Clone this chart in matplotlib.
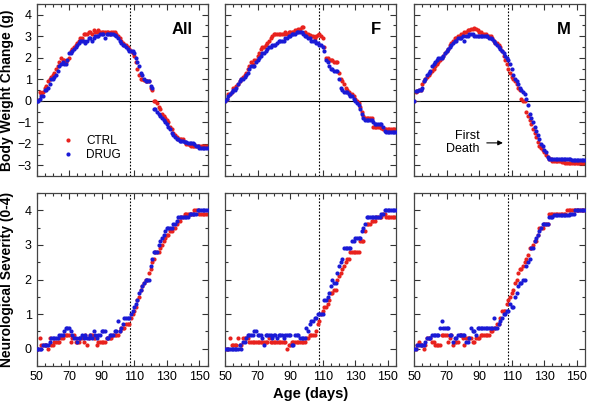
import numpy as np
import matplotlib
matplotlib.use("Agg")
import matplotlib.pyplot as plt
from matplotlib.ticker import MultipleLocator

plt.rcParams['font.family'] = ['Liberation Sans', 'DejaVu Sans']

# age in days, one reading per day
days = np.arange(50, 156)

# body weight change (g)
bw_all_ctrl = [0.0, 0.05, 0.4, 0.3, 0.4, 0.6, 0.7, 0.9, 1.0, 1.1,
               1.2, 1.3, 1.5, 1.6, 1.8, 2.0, 1.9, 1.9, 1.8, 1.9,
               2.0, 2.3, 2.4, 2.5, 2.6, 2.7, 2.8, 2.9, 2.9, 3.1,
               3.1, 3.1, 3.2, 3.2, 3.1, 3.3, 3.2, 3.2, 3.3, 3.2,
               3.2, 3.2, 3.2, 3.2, 3.2, 3.1, 3.2, 3.2, 3.2, 3.1,
               3.0, 2.9, 2.8, 2.7, 2.6, 2.6, 2.5, 2.4, 2.3, 2.2,
               2.1, 1.8, 1.5, 1.2, 1.0, 1.0, 0.95, 0.9, 0.9, 0.9,
               0.6, 0.5, 0.0, 0.0, -0.1, -0.3, -0.4, -0.6, -0.7, -0.8,
               -0.9, -1.0, -1.2, -1.3, -1.5, -1.6, -1.7, -1.8, -1.8, -1.8,
               -1.8, -1.9, -2.0, -2.0, -2.05, -2.1, -2.1, -2.1, -2.1, -2.1,
               -2.1, -2.1, -2.1, -2.1, -2.1, -2.1]
bw_all_drug = [0.0, 0.0, 0.1, 0.2, 0.2, 0.5, 0.5, 0.6, 0.8, 1.0,
               1.0, 1.1, 1.2, 1.4, 1.6, 1.7, 1.8, 1.7, 1.7, 1.9,
               2.2, 2.2, 2.3, 2.4, 2.5, 2.6, 2.7, 2.8, 2.8, 2.8,
               2.7, 2.8, 2.9, 2.9, 2.8, 2.9, 3.0, 3.0, 3.0, 3.1,
               3.1, 3.1, 2.9, 3.1, 3.1, 3.1, 3.1, 3.1, 3.05, 3.0,
               2.9, 2.8, 2.7, 2.6, 2.6, 2.5, 2.4, 2.3, 2.3, 2.3,
               2.2, 2.0, 1.8, 1.6, 1.3, 1.2, 1.0, 0.9, 0.9, 0.9,
               0.7, 0.6, -0.4, -0.4, -0.5, -0.6, -0.7, -0.8, -0.9, -1.0,
               -1.1, -1.2, -1.3, -1.5, -1.6, -1.7, -1.8, -1.8, -1.85, -1.85,
               -1.85, -1.9, -1.9, -1.95, -1.95, -1.95, -1.95, -2.0, -2.1, -2.1,
               -2.2, -2.2, -2.2, -2.2, -2.2, -2.2]
bw_f_ctrl = [0.0, 0.1, 0.3, 0.3, 0.4, 0.6, 0.6, 0.7, 0.8, 0.9,
             1.0, 1.1, 1.2, 1.3, 1.5, 1.6, 1.8, 1.7, 1.9, 1.9,
             2.1, 2.2, 2.4, 2.5, 2.5, 2.6, 2.7, 2.8, 2.9, 3.0,
             3.1, 3.1, 3.1, 3.1, 3.1, 3.1, 3.1, 3.2, 3.1, 3.2,
             3.2, 3.2, 3.2, 3.3, 3.3, 3.35, 3.35, 3.45, 3.45, 3.2,
             3.1, 3.1, 3.05, 3.0, 3.0, 2.9, 3.0, 3.05, 3.1, 3.0,
             2.9, 2.5, 2.0, 2.0, 1.9, 1.9, 1.9, 1.8, 1.8, 1.8,
             1.3, 1.0, 0.9, 0.8, 0.6, 0.5, 0.4, 0.3, 0.3, 0.2,
             0.1, 0.0, -0.1, -0.3, -0.5, -0.7, -0.8, -0.8, -0.8, -0.8,
             -0.8, -1.2, -1.2, -1.2, -1.2, -1.2, -1.25, -1.3, -1.3, -1.3,
             -1.3, -1.3, -1.3, -1.3, -1.3, -1.3]
bw_f_drug = [0.0, 0.1, 0.2, 0.3, 0.4, 0.5, 0.5, 0.6, 0.8, 0.9,
             1.0, 1.0, 1.1, 1.2, 1.3, 1.5, 1.6, 1.6, 1.6, 1.8,
             1.9, 2.0, 2.1, 2.2, 2.2, 2.3, 2.4, 2.5, 2.5, 2.6,
             2.6, 2.6, 2.7, 2.8, 2.8, 2.8, 2.8, 2.9, 2.9, 3.0,
             3.0, 3.1, 3.1, 3.1, 3.2, 3.2, 3.2, 3.2, 3.1, 3.0,
             3.0, 2.9, 2.9, 2.8, 2.8, 2.8, 2.7, 2.7, 2.6, 2.6,
             2.5, 2.3, 1.9, 1.8, 1.6, 1.5, 1.5, 1.4, 1.4, 1.4,
             1.0, 0.6, 0.5, 0.4, 0.4, 0.4, 0.3, 0.2, 0.2, 0.1,
             0.0, -0.1, -0.2, -0.4, -0.6, -0.8, -0.9, -0.9, -0.9, -0.9,
             -0.9, -1.0, -1.1, -1.1, -1.1, -1.1, -1.1, -1.2, -1.4, -1.45,
             -1.45, -1.45, -1.45, -1.45, -1.45, -1.45]
bw_m_ctrl = [0.0, 0.4, 0.45, 0.5, 0.5, 0.8, 0.9, 1.0, 1.1, 1.2,
             1.3, 1.4, 1.5, 1.6, 1.7, 1.8, 1.9, 2.0, 2.1, 2.2,
             2.3, 2.4, 2.6, 2.7, 2.8, 2.9, 2.9, 3.0, 3.0, 3.1,
             3.1, 3.2, 3.2, 3.3, 3.3, 3.35, 3.35, 3.4, 3.35, 3.3,
             3.2, 3.2, 3.1, 3.1, 3.1, 3.0, 3.0, 3.0, 2.9, 2.8,
             2.7, 2.7, 2.6, 2.5, 2.3, 2.1, 1.9, 1.7, 1.5, 1.3,
             1.1, 1.0, 0.9, 0.8, 0.6, 0.5, 0.1, 0.0, 0.0, -0.5,
             -0.7, -0.9, -1.1, -1.3, -1.5, -1.7, -1.9, -2.1, -2.2, -2.3,
             -2.4, -2.5, -2.6, -2.7, -2.7, -2.8, -2.8, -2.8, -2.8, -2.8,
             -2.8, -2.85, -2.85, -2.9, -2.9, -2.9, -2.9, -2.9, -2.9, -2.9,
             -2.9, -2.9, -2.9, -2.9, -2.9, -2.9]
bw_m_drug = [0.0, 0.45, 0.45, 0.5, 0.5, 0.6, 0.9, 1.0, 1.2, 1.3,
             1.4, 1.6, 1.7, 1.8, 1.9, 2.0, 2.0, 2.0, 2.1, 2.2,
             2.3, 2.4, 2.5, 2.6, 2.7, 2.8, 2.8, 2.9, 2.9, 2.9,
             3.0, 2.8, 3.0, 3.0, 3.1, 3.1, 3.1, 3.0, 3.0, 3.0,
             3.0, 3.0, 3.0, 3.0, 3.0, 3.0, 2.9, 2.9, 2.85, 2.8,
             2.7, 2.6, 2.5, 2.4, 2.3, 2.2, 2.1, 2.0, 1.9, 1.7,
             1.5, 1.2, 1.0, 0.9, 0.8, 0.6, 0.5, 0.4, 0.3, 0.1,
             -0.2, -0.6, -0.8, -1.0, -1.2, -1.4, -1.6, -1.8, -2.0, -2.1,
             -2.3, -2.4, -2.6, -2.7, -2.7, -2.7, -2.7, -2.7, -2.7, -2.7,
             -2.7, -2.7, -2.7, -2.7, -2.7, -2.7, -2.7, -2.75, -2.75, -2.75,
             -2.75, -2.75, -2.75, -2.75, -2.75, -2.75]

# neurological severity score (0-4)
ns_all_ctrl = [0.0, 0.0, 0.3, 0.1, 0.1, 0.1, 0.1, 0.0, 0.3, 0.1,
               0.1, 0.2, 0.2, 0.2, 0.2, 0.3, 0.3, 0.4, 0.4, 0.4,
               0.4, 0.2, 0.3, 0.4, 0.2, 0.2, 0.2, 0.3, 0.3, 0.2,
               0.4, 0.1, 0.3, 0.4, 0.4, 0.3, 0.3, 0.1, 0.2, 0.2,
               0.2, 0.2, 0.2, 0.3, 0.3, 0.3, 0.3, 0.4, 0.4, 0.4,
               0.4, 0.5, 0.6, 0.6, 0.6, 0.7, 0.7, 0.7, 0.9, 1.0,
               1.1, 1.2, 1.4, 1.5, 1.7, 1.8, 1.9, 2.0, 2.0, 2.2,
               2.3, 2.5, 2.6, 2.8, 2.8, 2.8, 2.9, 3.0, 3.1, 3.2,
               3.3, 3.3, 3.4, 3.4, 3.5, 3.5, 3.6, 3.7, 3.7, 3.8,
               3.8, 3.9, 3.9, 3.9, 3.9, 3.9, 3.9, 4.0, 4.0, 4.0,
               3.9, 3.9, 3.9, 3.9, 3.9, 3.9]
ns_all_drug = [0.0, 0.0, 0.0, 0.0, 0.1, 0.1, 0.1, 0.1, 0.2, 0.3,
               0.3, 0.3, 0.3, 0.3, 0.4, 0.4, 0.4, 0.5, 0.6, 0.6,
               0.6, 0.5, 0.4, 0.3, 0.3, 0.2, 0.3, 0.3, 0.4, 0.3,
               0.4, 0.3, 0.3, 0.4, 0.3, 0.5, 0.4, 0.3, 0.4, 0.4,
               0.5, 0.5, 0.5, 0.3, 0.3, 0.4, 0.4, 0.4, 0.5, 0.5,
               0.8, 0.5, 0.6, 0.7, 0.9, 0.9, 0.9, 0.9, 1.0, 1.1,
               1.2, 1.3, 1.4, 1.6, 1.7, 1.8, 1.9, 2.0, 2.0, 2.0,
               2.4, 2.6, 2.8, 2.8, 2.8, 3.0, 3.1, 3.2, 3.3, 3.4,
               3.5, 3.5, 3.5, 3.5, 3.6, 3.6, 3.7, 3.8, 3.8, 3.8,
               3.8, 3.8, 3.8, 3.8, 3.9, 3.9, 3.9, 3.9, 3.9, 4.0,
               4.0, 4.0, 4.0, 4.0, 4.0, 4.0]
ns_f_ctrl = [0.0, 0.0, 0.0, 0.3, 0.1, 0.1, 0.1, 0.1, 0.3, 0.1,
             0.1, 0.3, 0.3, 0.3, 0.3, 0.2, 0.2, 0.2, 0.2, 0.2,
             0.2, 0.2, 0.2, 0.2, 0.2, 0.2, 0.2, 0.3, 0.2, 0.2,
             0.2, 0.2, 0.2, 0.2, 0.2, 0.2, 0.2, 0.2, 0.0, 0.1,
             0.1, 0.2, 0.2, 0.2, 0.2, 0.2, 0.2, 0.2, 0.2, 0.2,
             0.3, 0.3, 0.4, 0.4, 0.4, 0.4, 0.5, 0.7, 0.8, 1.0,
             1.1, 1.2, 1.2, 1.3, 1.4, 1.6, 1.6, 1.7, 1.7, 2.0,
             2.1, 2.2, 2.3, 2.4, 2.5, 2.6, 2.6, 2.8, 2.8, 2.8,
             2.8, 2.8, 2.8, 3.1, 3.1, 3.1, 3.4, 3.6, 3.6, 3.6,
             3.7, 3.7, 3.7, 3.8, 3.8, 3.8, 3.8, 3.9, 3.9, 3.8,
             3.8, 3.8, 3.8, 3.8, 3.8, 3.8]
ns_f_drug = [0.0, 0.0, 0.0, 0.0, 0.0, 0.0, 0.0, 0.0, 0.0, 0.1,
             0.0, 0.2, 0.2, 0.3, 0.4, 0.4, 0.4, 0.4, 0.5, 0.5,
             0.4, 0.4, 0.4, 0.3, 0.1, 0.4, 0.4, 0.4, 0.4, 0.3,
             0.4, 0.4, 0.3, 0.4, 0.4, 0.4, 0.3, 0.4, 0.4, 0.4,
             0.4, 0.1, 0.1, 0.4, 0.4, 0.4, 0.3, 0.3, 0.3, 0.3,
             0.6, 0.5, 0.7, 0.8, 0.8, 0.9, 0.9, 1.0, 1.0, 1.0,
             1.0, 1.4, 1.4, 1.5, 1.6, 1.8, 2.0, 1.9, 1.9, 2.2,
             2.4, 2.5, 2.6, 2.9, 2.9, 2.9, 2.9, 2.9, 3.1, 3.1,
             3.2, 3.2, 3.2, 3.2, 3.4, 3.5, 3.6, 3.8, 3.8, 3.8,
             3.8, 3.8, 3.8, 3.8, 3.8, 3.8, 3.9, 3.9, 4.0, 4.0,
             4.0, 4.0, 4.0, 4.0, 4.0, 4.0]
ns_m_ctrl = [0.0, 0.0, 0.1, 0.2, 0.1, 0.1, 0.0, 0.1, 0.3, 0.3,
             0.3, 0.2, 0.2, 0.1, 0.1, 0.1, 0.1, 0.4, 0.4, 0.4,
             0.4, 0.2, 0.3, 0.4, 0.1, 0.2, 0.2, 0.2, 0.4, 0.4,
             0.3, 0.1, 0.3, 0.3, 0.3, 0.3, 0.2, 0.2, 0.3, 0.3,
             0.3, 0.4, 0.4, 0.4, 0.4, 0.4, 0.4, 0.5, 0.5, 0.6,
             0.6, 0.7, 0.7, 0.9, 1.1, 1.1, 1.1, 1.3, 1.4, 1.5,
             1.6, 1.7, 1.9, 2.0, 2.2, 2.3, 2.3, 2.4, 2.5, 2.6,
             2.7, 2.9, 2.9, 3.0, 3.1, 3.1, 3.3, 3.5, 3.5, 3.5,
             3.6, 3.6, 3.6, 3.9, 3.9, 3.9, 3.9, 3.9, 3.9, 3.9,
             3.9, 3.9, 3.9, 3.9, 4.0, 4.0, 4.0, 4.0, 4.0, 4.0,
             4.0, 4.0, 4.0, 4.0, 4.0, 4.0]
ns_m_drug = [0.0, 0.0, 0.1, 0.1, 0.1, 0.1, 0.1, 0.2, 0.3, 0.3,
             0.3, 0.4, 0.4, 0.4, 0.4, 0.4, 0.6, 0.8, 0.6, 0.6,
             0.6, 0.6, 0.4, 0.4, 0.2, 0.3, 0.3, 0.4, 0.4, 0.4,
             0.4, 0.4, 0.2, 0.2, 0.3, 0.6, 0.5, 0.5, 0.4, 0.6,
             0.6, 0.6, 0.6, 0.6, 0.6, 0.6, 0.6, 0.6, 0.6, 0.9,
             0.6, 0.6, 0.7, 0.8, 0.9, 1.0, 1.0, 1.1, 1.1, 1.3,
             1.2, 1.2, 1.5, 1.6, 1.8, 1.9, 1.9, 2.0, 2.0, 2.4,
             2.5, 2.6, 2.9, 2.9, 3.1, 3.2, 3.3, 3.4, 3.5, 3.6,
             3.6, 3.6, 3.6, 3.8, 3.8, 3.8, 3.85, 3.85, 3.85, 3.85,
             3.85, 3.85, 3.85, 3.85, 3.85, 3.85, 3.9, 3.9, 3.9, 4.0,
             4.0, 4.0, 4.0, 4.0, 4.0, 4.0]

groups = ['All', 'F', 'M']
bw_ctrl = [bw_all_ctrl, bw_f_ctrl, bw_m_ctrl]
bw_drug = [bw_all_drug, bw_f_drug, bw_m_drug]
ns_ctrl = [ns_all_ctrl, ns_f_ctrl, ns_m_ctrl]
ns_drug = [ns_all_drug, ns_f_drug, ns_m_drug]
age_ticks = [50, 70, 90, 110, 130, 150]

first_death = 107.5
red = '#e8221e'
blue = '#1a1ad6'

fig = plt.figure(figsize=(5.91, 4.04), dpi=100)
lefts = [36.5 / 591, 225 / 591, 414 / 591]
w = 171 / 591

def style(ax, ylo, yhi):
    ax.set_xlim(50, 155)
    ax.set_ylim(ylo, yhi)
    ax.set_xticks(age_ticks)
    ax.xaxis.set_minor_locator(MultipleLocator(5))
    ax.yaxis.set_major_locator(MultipleLocator(1))
    ax.yaxis.set_minor_locator(MultipleLocator(0.5))
    ax.tick_params(which='both', direction='in', top=True, right=True,
                   labelsize=9, width=0.8, color='#333333')
    ax.tick_params(which='major', length=4.5)
    ax.tick_params(which='minor', length=2.5)
    for s in ax.spines.values():
        s.set_color('#444444')
        s.set_linewidth(0.9)
    ax.axvline(first_death, color='k', ls=(0, (1.5, 1.5)), lw=0.8, zorder=1)

for i, g in enumerate(groups):
    ax = fig.add_axes([lefts[i], 228 / 404, w, 172 / 404])
    style(ax, -3.5, 4.5)
    ax.axhline(0, color='k', lw=0.8, zorder=1)
    ax.plot(days, bw_ctrl[i], 'o', color=red, ms=3, mec='none', label='CTRL', zorder=2)
    ax.plot(days, bw_drug[i], 'o', color=blue, ms=3, mec='none', label='DRUG', zorder=3)
    ax.tick_params(labelbottom=False)
    ax.text(0.915, 0.85, g, transform=ax.transAxes, ha='right', va='center',
            fontsize=12, fontweight='bold')
    if i == 0:
        ax.set_ylabel('Body Weight Change (g)', fontsize=10, fontweight='bold')
        ax.yaxis.set_label_coords(-0.13, 0.5)
        ax.legend(loc='lower left', bbox_to_anchor=(0.09, 0.06), frameon=False,
                  fontsize=8.5, handletextpad=0.5, borderaxespad=0, labelspacing=0.15,
                  markerscale=1.0)
    else:
        ax.tick_params(labelleft=False)
    if g == 'M':
        ax.annotate('', xy=(106.3, -1.96), xytext=(93, -1.96),
                    arrowprops=dict(arrowstyle='-|>', color='k', lw=0.8,
                                    mutation_scale=7))
        ax.text(90.5, -1.93, 'First\nDeath', ha='right', va='center',
                multialignment='right', fontsize=9, linespacing=1.1)

    ax2 = fig.add_axes([lefts[i], 38 / 404, w, 173 / 404])
    style(ax2, -0.5, 4.5)
    ax2.plot(days, ns_ctrl[i], 'o', color=red, ms=3, mec='none', zorder=2)
    ax2.plot(days, ns_drug[i], 'o', color=blue, ms=3, mec='none', zorder=3)
    if i == 0:
        ax2.set_ylabel('Neurological Severity (0-4)', fontsize=10, fontweight='bold')
        ax2.yaxis.set_label_coords(-0.13, 0.5)
    else:
        ax2.tick_params(labelleft=False)
    if i == 1:
        ax2.set_xlabel('Age (days)', fontsize=10.5, fontweight='bold', labelpad=3)

fig.savefig('out.png', dpi=100)
